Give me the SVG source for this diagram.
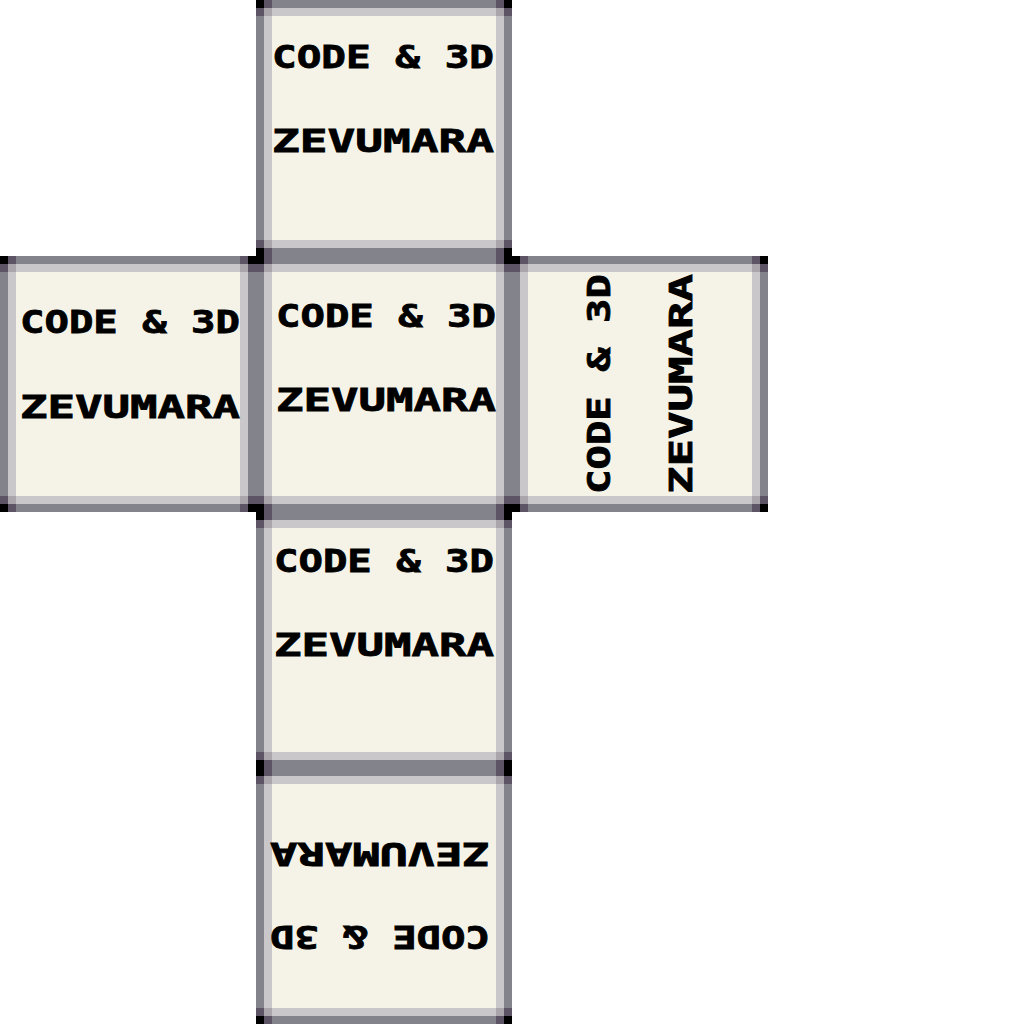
<svg xmlns="http://www.w3.org/2000/svg" xmlns:xlink="http://www.w3.org/1999/xlink" width="1024" height="1024" viewBox="0 0 1024 1024">
<style>
.dk{fill:#83838b}.lt{fill:#c9c7c9}.cr{fill:#f5f3e8}.bk{fill:#000}.pu{fill:#5d5566}.ll{fill:#a9a5ab}
.t{font-family:"DejaVu Sans Mono","Liberation Mono",monospace;font-weight:bold;font-size:32px;fill:#000;stroke:#000;stroke-width:0.8}
</style>
<defs>
<g id="tile">
<rect class="dk" x="0" y="0" width="256" height="256"/>
<rect class="lt" x="8" y="8" width="240" height="240"/>
<rect class="cr" x="16" y="16" width="224" height="224"/>
<rect class="bk" x="0" y="0" width="8" height="8"/>
<rect class="bk" x="248" y="0" width="8" height="8"/>
<rect class="bk" x="0" y="248" width="8" height="8"/>
<rect class="bk" x="248" y="248" width="8" height="8"/>
<rect class="pu" x="8" y="0" width="8" height="8"/>
<rect class="pu" x="0" y="8" width="8" height="8"/>
<rect class="pu" x="240" y="0" width="8" height="8"/>
<rect class="pu" x="248" y="8" width="8" height="8"/>
<rect class="pu" x="0" y="240" width="8" height="8"/>
<rect class="pu" x="8" y="248" width="8" height="8"/>
<rect class="pu" x="240" y="248" width="8" height="8"/>
<rect class="pu" x="248" y="240" width="8" height="8"/>
<rect class="ll" x="8" y="8" width="8" height="8"/>
<rect class="ll" x="240" y="8" width="8" height="8"/>
<rect class="ll" x="8" y="240" width="8" height="8"/>
<rect class="ll" x="240" y="240" width="8" height="8"/>
</g>
</defs>
<rect width="1024" height="1024" fill="#fff"/>
<g id="face-top">
<use xlink:href="#tile" href="#tile" x="256" y="0"/>
<text class="t" x="272" y="68" textLength="222" lengthAdjust="spacingAndGlyphs">CODE &amp; 3D</text>
<text class="t" x="272" y="152" textLength="222" lengthAdjust="spacingAndGlyphs">ZEVUMARA</text>
</g>
<g id="face-left">
<use xlink:href="#tile" href="#tile" x="0" y="256"/>
<text class="t" x="20" y="333" textLength="220" lengthAdjust="spacingAndGlyphs">CODE &amp; 3D</text>
<text class="t" x="20" y="418" textLength="220" lengthAdjust="spacingAndGlyphs">ZEVUMARA</text>
</g>
<g id="face-center">
<use xlink:href="#tile" href="#tile" x="256" y="256"/>
<text class="t" x="276" y="327" textLength="220" lengthAdjust="spacingAndGlyphs">CODE &amp; 3D</text>
<text class="t" x="276" y="411" textLength="220" lengthAdjust="spacingAndGlyphs">ZEVUMARA</text>
</g>
<g id="face-right">
<use xlink:href="#tile" href="#tile" x="512" y="256"/>
<text class="t" transform="translate(610,494) rotate(-90)" textLength="220" lengthAdjust="spacingAndGlyphs">CODE &amp; 3D</text>
<text class="t" transform="translate(692,494) rotate(-90)" textLength="220" lengthAdjust="spacingAndGlyphs">ZEVUMARA</text>
</g>
<g id="face-below">
<use xlink:href="#tile" href="#tile" x="256" y="512"/>
<text class="t" x="274" y="572" textLength="220" lengthAdjust="spacingAndGlyphs">CODE &amp; 3D</text>
<text class="t" x="274" y="656" textLength="220" lengthAdjust="spacingAndGlyphs">ZEVUMARA</text>
</g>
<g id="face-bottom">
<use xlink:href="#tile" href="#tile" x="256" y="768"/>
<text class="t" transform="translate(490,843) rotate(180)" textLength="220" lengthAdjust="spacingAndGlyphs">ZEVUMARA</text>
<text class="t" transform="translate(490,926) rotate(180)" textLength="220" lengthAdjust="spacingAndGlyphs">CODE &amp; 3D</text>
</g>
</svg>
